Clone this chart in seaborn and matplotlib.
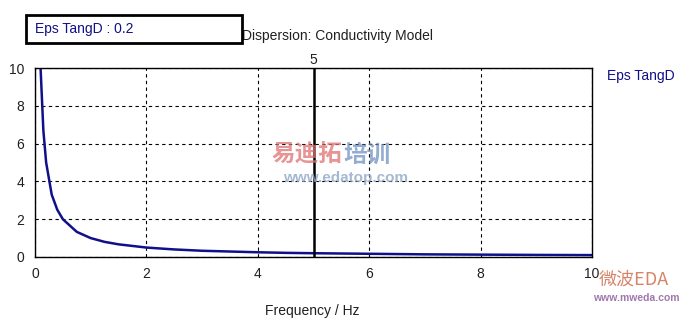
import matplotlib
matplotlib.use("Agg")
import matplotlib.pyplot as plt
import seaborn as sns
import pandas as pd
from matplotlib.patches import Rectangle

freq = [0.07, 0.1, 0.15, 0.2, 0.3, 0.4, 0.5, 0.75, 1.0, 1.25, 1.5, 2.0, 2.5, 3.0,
        3.5, 4.0, 4.5, 5.0, 6.0, 7.0, 8.0, 9.0, 10.0]
eps_tangd = [14.0, 10.0, 6.7, 5.0, 3.3, 2.5, 2.0, 1.33, 1.0, 0.8, 0.67, 0.5, 0.4, 0.33,
             0.29, 0.25, 0.22, 0.2, 0.17, 0.14, 0.125, 0.11, 0.1]
x_ticks = [0, 2, 4, 6, 8, 10]
y_ticks = [0, 2, 4, 6, 8, 10]
marker_x = 5
marker_value = "0.2"

sns.set_style("white")
plt.rcParams['font.family'] = ['Liberation Sans', 'DejaVu Sans']

W, H = 695, 327
fig = plt.figure(figsize=(W / 100, H / 100), dpi=100)
fig.patch.set_facecolor("white")
ax = fig.add_axes([35 / W, (H - 257) / H, 557 / W, 189 / H])

df = pd.DataFrame({"Frequency": freq, "EpsTangD": eps_tangd})
sns.lineplot(data=df, x="Frequency", y="EpsTangD", ax=ax, color="#10108a",
             linewidth=1.8, legend=False)

ax.set_xlim(0, 10)
ax.set_ylim(0, 10)
ax.set_xticks(x_ticks)
ax.set_yticks(y_ticks)
ax.set_xticklabels([str(t) for t in x_ticks])
ax.set_yticklabels([str(t) for t in y_ticks])
ax.grid(True, color="black", linestyle=(0, (3, 3)), linewidth=0.8)
for s in ax.spines.values():
    s.set_color("black")
    s.set_linewidth(1.0)
ax.tick_params(axis="x", direction="out", length=4, width=1, colors="black",
               labelsize=10, pad=3)
ax.tick_params(axis="y", length=0, labelsize=10, pad=8, colors="black")
for lab in ax.get_xticklabels() + ax.get_yticklabels():
    lab.set_color("#202020")

ax.axvline(marker_x, color="black", linewidth=1.8)
ax.text(marker_x, 10.05, str(marker_x), ha="center", va="bottom", fontsize=10,
        color="#202020")

ax.set_xlabel("")
ax.set_ylabel("")

fig.text(337 / W, 1 - 36 / H, "Dispersion: Conductivity Model", ha="center",
         va="center", fontsize=10, color="#202020")
fig.text(312 / W, 1 - 311 / H, "Frequency / Hz", ha="center", va="center",
         fontsize=10, color="#202020")
fig.text(607 / W, 1 - 76 / H, "Eps TangD", ha="left", va="center", fontsize=10,
         color="#10108a")

box = Rectangle((26 / W, 1 - 43 / H), 216 / W, 28 / H, transform=fig.transFigure,
                facecolor="white", edgecolor="black", linewidth=2, zorder=5)
fig.patches.append(box)
fig.text(35 / W, 1 - 29 / H, "Eps TangD : " + marker_value, ha="left",
         va="center", fontsize=10, color="#10108a", zorder=6)

# watermarks
cjk = ['Noto Sans CJK SC', 'DejaVu Sans']
fig.text(272 / W, 1 - 155 / H, "易迪拓", ha="left", va="center", fontsize=17,
         color="#e07070", alpha=0.75, family=cjk, weight="bold")
fig.text(343 / W, 1 - 155 / H, "培训", ha="left", va="center", fontsize=17,
         color="#7090c0", alpha=0.75, family=cjk, weight="bold")
fig.text(346 / W, 1 - 178 / H, "www.edatop.com", ha="center", va="center",
         fontsize=11, color="#90a8c8", alpha=0.8, weight="bold")
fig.text(634 / W, 1 - 280 / H, "微波EDA", ha="center", va="center", fontsize=13,
         color="#d07050", alpha=0.85, family=cjk)
fig.text(636 / W, 1 - 298 / H, "www.mweda.com", ha="center", va="center",
         fontsize=7.5, color="#9060a0", alpha=0.85, weight="bold")

fig.savefig("out.png", dpi=100)
